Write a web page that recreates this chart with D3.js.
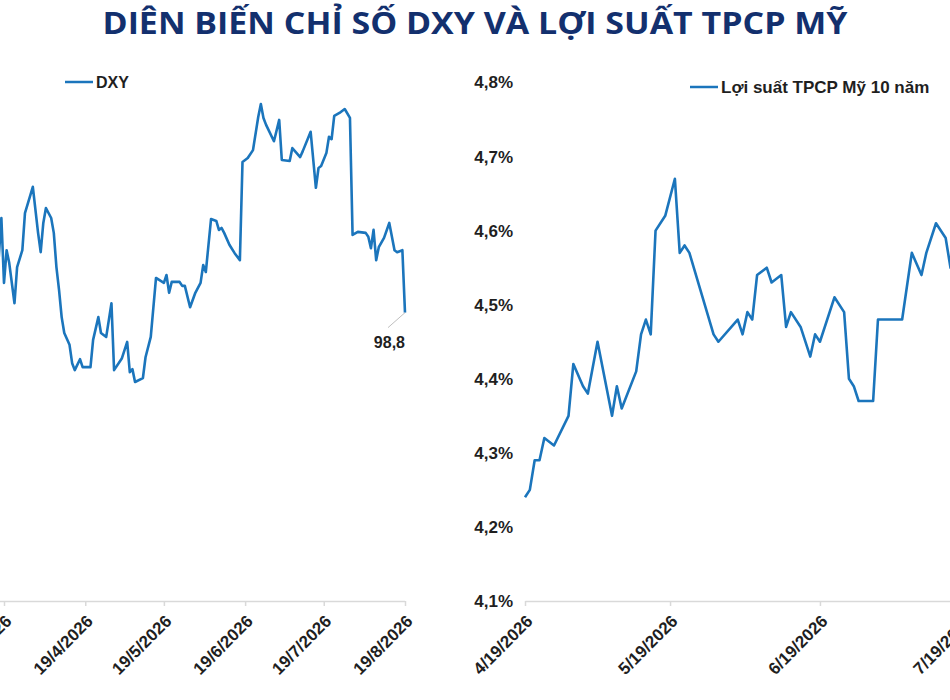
<!DOCTYPE html>
<html>
<head>
<meta charset="utf-8">
<script src="https://cdn.jsdelivr.net/npm/d3@7"></script>
<style>
  body { margin: 0; background: #fff; }
  svg { display: block; font-family: "Liberation Sans", Arial, sans-serif; }
</style>
</head>
<body>
<div id="chart"></div>
<script>
// Chart data
const title = "DIÊN BIẾN CHỈ SỐ DXY VÀ LỢI SUẤT TPCP MỸ";
const dxyName = "DXY";
const yieldName = "Lợi suất TPCP Mỹ 10 năm";

const dxyDates = [
  "2026-03-17", "2026-03-18", "2026-03-19", "2026-03-20", "2026-03-21", "2026-03-23", "2026-03-24", "2026-03-26",
  "2026-03-27", "2026-03-30", "2026-04-01", "2026-04-02", "2026-04-03", "2026-04-04", "2026-04-06", "2026-04-07",
  "2026-04-08", "2026-04-09", "2026-04-10", "2026-04-11", "2026-04-13", "2026-04-14", "2026-04-15", "2026-04-17",
  "2026-04-18", "2026-04-21", "2026-04-22", "2026-04-24", "2026-04-25", "2026-04-27", "2026-04-29", "2026-04-30",
  "2026-05-03", "2026-05-05", "2026-05-06", "2026-05-07", "2026-05-08", "2026-05-11", "2026-05-12", "2026-05-14",
  "2026-05-16", "2026-05-19", "2026-05-20", "2026-05-21", "2026-05-22", "2026-05-25", "2026-05-26", "2026-05-27",
  "2026-05-29", "2026-05-31", "2026-06-02", "2026-06-03", "2026-06-04", "2026-06-06", "2026-06-08", "2026-06-09",
  "2026-06-10", "2026-06-11", "2026-06-13", "2026-06-15", "2026-06-17", "2026-06-18", "2026-06-20", "2026-06-22",
  "2026-06-24", "2026-06-25", "2026-06-26", "2026-06-27", "2026-06-30", "2026-07-02", "2026-07-03", "2026-07-06",
  "2026-07-07", "2026-07-10", "2026-07-11", "2026-07-14", "2026-07-16", "2026-07-17", "2026-07-18", "2026-07-20",
  "2026-07-21", "2026-07-22", "2026-07-23", "2026-07-25", "2026-07-27", "2026-07-29", "2026-07-30", "2026-08-01",
  "2026-08-04", "2026-08-05", "2026-08-06", "2026-08-07", "2026-08-08", "2026-08-09", "2026-08-11", "2026-08-13",
  "2026-08-15", "2026-08-16", "2026-08-18", "2026-08-19"
];
const dxyValues = [
  99.92, 100.71, 99.40, 100.06, 99.80, 98.99, 99.72, 100.06,
  100.81, 101.34, 100.41, 100.02, 100.61, 100.91, 100.71, 100.41,
  99.72, 99.26, 98.71, 98.39, 98.15, 97.78, 97.64, 97.86,
  97.70, 97.70, 98.25, 98.71, 98.39, 98.31, 98.99, 97.64,
  97.88, 98.21, 97.60, 97.66, 97.40, 97.48, 97.90, 98.31,
  99.50, 99.40, 99.56, 99.20, 99.42, 99.42, 99.34, 99.34,
  98.91, 99.20, 99.40, 99.76, 99.62, 100.69, 100.65, 100.47,
  100.51, 100.41, 100.17, 100.00, 99.86, 101.84, 101.92, 102.08,
  102.75, 103.01, 102.73, 102.59, 102.26, 102.69, 101.88, 101.86,
  102.12, 101.94, 102.06, 102.45, 101.32, 101.72, 101.76, 102.02,
  102.35, 102.30, 102.77, 102.83, 102.91, 102.73, 100.37, 100.43,
  100.41, 100.33, 100.10, 100.47, 99.86, 100.12, 100.31, 100.61,
  100.06, 100.02, 100.06, 98.80
];

const yieldDates = [
  "2026-04-19", "2026-04-20", "2026-04-21", "2026-04-22", "2026-04-23", "2026-04-25", "2026-04-28", "2026-04-29",
  "2026-05-01", "2026-05-02", "2026-05-04", "2026-05-07", "2026-05-08", "2026-05-09", "2026-05-12", "2026-05-13",
  "2026-05-14", "2026-05-15", "2026-05-16", "2026-05-18", "2026-05-20", "2026-05-21", "2026-05-22", "2026-05-23",
  "2026-05-28", "2026-05-29", "2026-06-02", "2026-06-03", "2026-06-04", "2026-06-05", "2026-06-06", "2026-06-08",
  "2026-06-09", "2026-06-11", "2026-06-12", "2026-06-13", "2026-06-15", "2026-06-17", "2026-06-18", "2026-06-19",
  "2026-06-22", "2026-06-24", "2026-06-25", "2026-06-26", "2026-06-27", "2026-06-30", "2026-07-01", "2026-07-06",
  "2026-07-08", "2026-07-10", "2026-07-11", "2026-07-13", "2026-07-15", "2026-07-16", "2026-07-17"
];
const yieldValues = [
  4.24, 4.25, 4.29, 4.29, 4.32, 4.31, 4.35, 4.42,
  4.39, 4.38, 4.45, 4.35, 4.39, 4.36, 4.41, 4.46,
  4.48, 4.46, 4.60, 4.62, 4.67, 4.57, 4.58, 4.57,
  4.46, 4.45, 4.48, 4.46, 4.49, 4.48, 4.54, 4.55,
  4.53, 4.54, 4.47, 4.49, 4.47, 4.43, 4.46, 4.45,
  4.51, 4.49, 4.40, 4.39, 4.37, 4.37, 4.48, 4.48,
  4.57, 4.54, 4.57, 4.61, 4.59, 4.55, 4.57
];

const dxyTickDates = ["2026-03-19", "2026-04-19", "2026-05-19", "2026-06-19", "2026-07-19", "2026-08-19"];
const yieldTickDates = ["2026-04-19", "2026-05-19", "2026-06-19", "2026-07-19"];
const yieldTickValues = [4.1, 4.2, 4.3, 4.4, 4.5, 4.6, 4.7, 4.8];

const parseDate = d3.timeParse("%Y-%m-%d");
const viLocale = d3.formatLocale({ decimal: ",", thousands: ".", grouping: [3], currency: ["", ""] });
const fmt1 = viLocale.format(".1f");

const W = 950, H = 700;
const lineColor = "#1b75bc";
const axisColor = "#d9d9d9";
const textColor = "#1f1f1f";

const svg = d3.select("#chart").append("svg").attr("width", W).attr("height", H);
svg.append("rect").attr("width", W).attr("height", H).attr("fill", "#fff");

svg.append("text")
  .attr("x", 475).attr("y", 34)
  .attr("text-anchor", "middle")
  .attr("textLength", 745).attr("lengthAdjust", "spacingAndGlyphs")
  .style("font-family", "'Open Sans', 'Noto Sans', sans-serif")
  .style("font-weight", 700).style("font-size", "31px")
  .style("fill", "#13306e")
  .text(title);

const styleXAxis = (g, firstX) => {
  g.select(".domain").attr("stroke", axisColor).attr("stroke-width", 1.5);
  if (firstX !== undefined) {
    g.select(".domain").attr("d", `M${firstX},0.5H${g.datum()}`);
  }
  g.selectAll(".tick line").attr("stroke", axisColor).attr("stroke-width", 1.5);
  g.selectAll(".tick text")
    .attr("x", 0).attr("y", 0).attr("dy", "0.35em")
    .attr("text-anchor", "end")
    .attr("transform", "translate(4,17) rotate(-45)")
    .style("font-size", "17px").style("font-weight", 700)
    .style("fill", textColor);
};

const drawLegend = (x, y, label, size) => {
  svg.append("line")
    .attr("x1", x).attr("x2", x + 28).attr("y1", y).attr("y2", y)
    .attr("stroke", lineColor).attr("stroke-width", 2.5);
  svg.append("text")
    .attr("x", x + 31).attr("y", y).attr("dy", "0.36em")
    .style("font-size", size + "px").style("font-weight", 700)
    .style("fill", textColor)
    .text(label);
};

// Left panel: DXY
const dxyData = dxyDates.map((d, i) => ({ date: parseDate(d), value: dxyValues[i] }));

const xL = d3.scaleTime()
  .domain([parseDate(dxyTickDates[0]), parseDate(dxyTickDates[dxyTickDates.length - 1])])
  .range([4, 405]);
const yL = d3.scaleLinear().domain([93, 104]).range([600, 55]);

const axisL = svg.append("g")
  .datum(xL.range()[1])
  .attr("transform", "translate(0,601)")
  .call(d3.axisBottom(xL)
    .tickValues(dxyTickDates.map(parseDate))
    .tickSize(5).tickSizeOuter(0)
    .tickFormat(d3.timeFormat("%-d/%-m/%Y")));
styleXAxis(axisL, Math.min(0, xL(dxyData[0].date)));

svg.append("path")
  .datum(dxyData)
  .attr("fill", "none")
  .attr("stroke", lineColor)
  .attr("stroke-width", 2.6)
  .attr("stroke-linejoin", "round")
  .attr("d", d3.line().x((d) => xL(d.date)).y((d) => yL(d.value)));

const lastDxy = dxyData[dxyData.length - 1];
const lx = xL(lastDxy.date), ly = yL(lastDxy.value);
svg.append("line")
  .attr("x1", lx).attr("y1", ly).attr("x2", lx - 17).attr("y2", ly + 15)
  .attr("stroke", "#bfbfbf").attr("stroke-width", 1);
svg.append("text")
  .attr("x", lx).attr("y", ly + 35)
  .attr("text-anchor", "end")
  .style("font-size", "16px").style("font-weight", 700)
  .style("fill", textColor)
  .text(fmt1(lastDxy.value));

drawLegend(65, 82, dxyName, 16);

// Right panel: 10Y US Treasury yield
const yieldData = yieldDates.map((d, i) => ({ date: parseDate(d), value: yieldValues[i] }));

const xR = d3.scaleTime()
  .domain([parseDate(yieldTickDates[0]), parseDate(yieldTickDates[yieldTickDates.length - 1])])
  .range([525, 965]);
const yR = d3.scaleLinear().domain([4.1, 4.8]).range([601, 82.5]);

const axisR = svg.append("g")
  .datum(xR.range()[1])
  .attr("transform", "translate(0,601)")
  .call(d3.axisBottom(xR)
    .tickValues(yieldTickDates.map(parseDate))
    .tickSize(5).tickSizeOuter(0)
    .tickFormat(d3.timeFormat("%-m/%-d/%Y")));
styleXAxis(axisR);

const axisYR = svg.append("g")
  .attr("transform", "translate(513,0)")
  .call(d3.axisLeft(yR)
    .tickValues(yieldTickValues)
    .tickSize(0)
    .tickFormat((d) => fmt1(d) + "%"));
axisYR.select(".domain").remove();
axisYR.selectAll(".tick text")
  .attr("x", 0)
  .style("font-size", "17px").style("font-weight", 700)
  .style("fill", textColor);

svg.append("path")
  .datum(yieldData)
  .attr("fill", "none")
  .attr("stroke", lineColor)
  .attr("stroke-width", 2.6)
  .attr("stroke-linejoin", "round")
  .attr("d", d3.line().x((d) => xR(d.date)).y((d) => yR(d.value)));

drawLegend(690, 87, yieldName, 17);
</script>
</body>
</html>
